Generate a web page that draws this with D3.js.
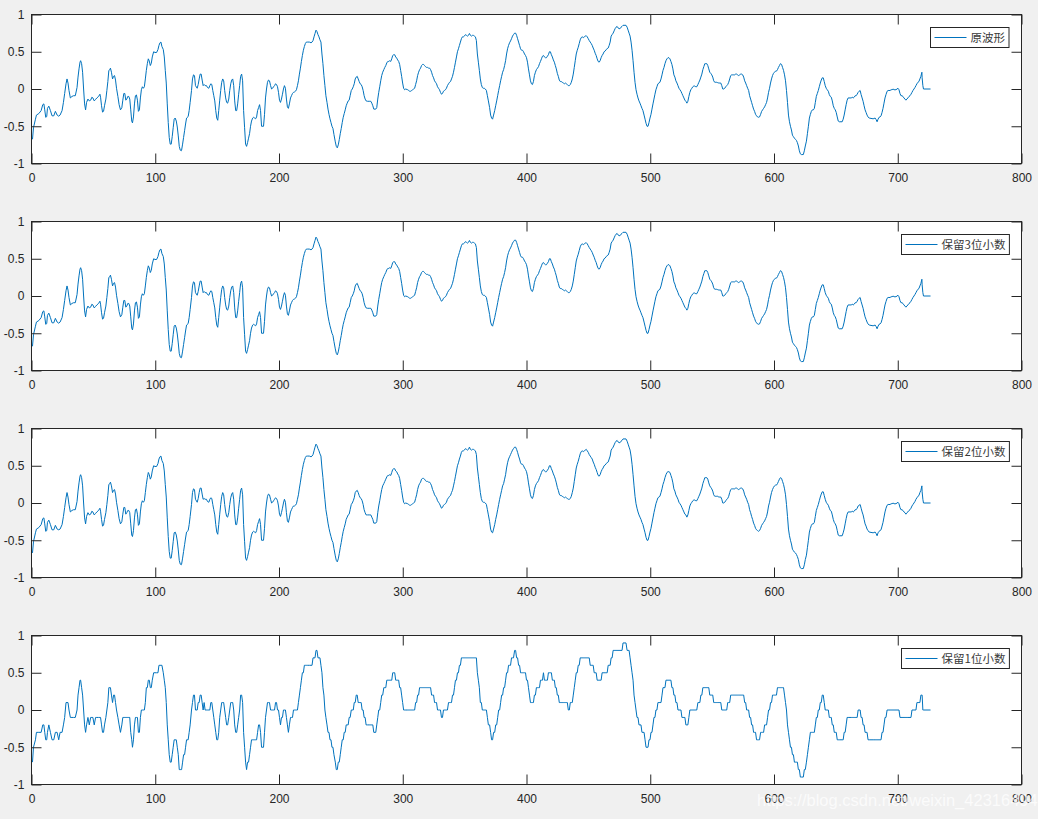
<!DOCTYPE html>
<html><head><meta charset="utf-8">
<script src="https://cdn.jsdelivr.net/npm/d3@7"></script>
<style>body{margin:0;background:#f0f0f0;overflow:hidden}svg{display:block}</style>
</head><body>
<svg id="chart" width="1038" height="819"></svg>
<script>
const xTicks = [0, 100, 200, 300, 400, 500, 600, 700, 800];
const yTicks = [-1, -0.5, 0, 0.5, 1];
const legendLabels = ["原波形", "保留3位小数", "保留2位小数", "保留1位小数"];
const decimals = [null, 3, 2, 1];
const watermark = "https://blog.csdn.net/weixin_42316494";
// original waveform: [sample index, value]
const wave = [
[0.8,-0.675],[1.6,-0.52],[3.2,-0.405],[4.0,-0.35],[5.9,-0.33],[7.8,-0.29],[9.1,-0.21],[10.0,-0.2],[10.7,-0.28],[11.5,-0.38],[12.3,-0.37],[12.9,-0.26],[14.0,-0.23],[15.3,-0.29],[16.6,-0.36],[18.0,-0.36],[19.3,-0.3],[20.7,-0.35],[22.0,-0.365],[23.1,-0.35],[24.7,-0.29],[25.8,-0.18],[26.8,-0.06],[27.9,0.07],[28.7,0.135],[29.5,0.08],[30.3,-0.02],[31.4,-0.12],[32.7,-0.1],[34.0,-0.09],[35.4,-0.09],[36.8,0.02],[37.6,0.16],[38.4,0.27],[39.2,0.36],[39.7,0.38],[40.5,0.34],[41.3,0.225],[42.1,0.0],[42.9,-0.2],[43.7,-0.28],[44.5,-0.18],[45.6,-0.135],[46.7,-0.16],[47.8,-0.15],[48.8,-0.11],[49.6,-0.12],[50.7,-0.16],[51.8,-0.14],[52.8,-0.12],[54.2,-0.1],[55.3,-0.07],[55.8,-0.11],[56.6,-0.225],[57.4,-0.31],[58.2,-0.3],[59.0,-0.225],[60.1,-0.135],[60.9,-0.02],[61.7,0.1],[62.5,0.25],[63.3,0.26],[63.8,0.28],[64.6,0.225],[65.5,0.135],[66.3,0.17],[67.1,0.18],[67.9,0.12],[68.7,0.01],[69.8,-0.1],[70.8,-0.21],[71.9,-0.28],[73.0,-0.25],[73.8,-0.15],[74.6,-0.06],[75.4,-0.06],[76.2,-0.15],[77.0,-0.135],[77.8,-0.1],[78.6,-0.1],[79.4,-0.135],[80.2,-0.28],[81.0,-0.43],[81.6,-0.455],[82.4,-0.375],[83.2,-0.2],[84.0,-0.09],[84.8,-0.08],[85.6,-0.15],[86.4,-0.3],[87.2,-0.28],[88.0,-0.12],[88.8,-0.01],[89.6,0.03],[90.4,0.01],[91.2,0.03],[92.0,0.135],[92.8,0.25],[93.6,0.34],[94.4,0.405],[95.2,0.375],[96.0,0.315],[96.8,0.345],[97.6,0.43],[98.7,0.5],[99.8,0.49],[101.1,0.49],[102.2,0.53],[103.0,0.585],[103.8,0.62],[104.6,0.63],[105.4,0.57],[106.5,0.53],[107.3,0.43],[108.1,0.25],[108.9,0.08],[109.7,-0.2],[110.5,-0.45],[111.3,-0.65],[112.1,-0.74],[112.9,-0.74],[113.7,-0.64],[114.5,-0.52],[115.3,-0.405],[116.1,-0.39],[117.0,-0.43],[117.8,-0.51],[118.6,-0.63],[119.4,-0.77],[120.2,-0.82],[121.0,-0.83],
[121.3,-0.82],[122.1,-0.74],[122.9,-0.65],[123.7,-0.56],[124.5,-0.47],[125.3,-0.39],[126.6,-0.37],[127.4,-0.29],[128.2,-0.18],[129.3,-0.02],[130.1,0.135],[130.9,0.19],[131.7,0.18],[132.5,0.045],[133.9,0.01],[134.7,0.06],[135.5,0.135],[136.3,0.2],[137.1,0.2],[137.9,0.12],[138.7,0.045],[139.5,0.06],[140.3,0.045],[141.4,0.045],[142.2,0.02],[143.3,0.01],[144.1,0.045],[144.9,0.07],[145.7,0.06],[146.5,-0.02],[147.3,-0.09],[148.1,-0.16],[148.9,-0.29],[149.7,-0.39],[150.5,-0.42],[151.3,-0.29],[152.1,-0.15],[152.9,-0.02],[153.7,0.09],[154.5,0.135],[155.3,0.11],[156.1,-0.02],[156.9,-0.12],[157.7,-0.18],[158.5,-0.19],[159.4,-0.135],[160.2,-0.02],[161.0,0.07],[161.8,0.12],[162.6,0.135],[163.4,0.045],[164.2,-0.16],[165.0,-0.29],[165.8,-0.29],[166.6,-0.2],[167.4,-0.07],[168.2,0.045],[169.0,0.17],[169.8,0.2],[170.6,0.11],[171.4,-0.29],[172.2,-0.52],[173.0,-0.74],[173.8,-0.77],[174.6,-0.72],[175.4,-0.66],[176.2,-0.6],[177.0,-0.5],[177.8,-0.43],[178.7,-0.39],[179.5,-0.38],[180.3,-0.39],[181.1,-0.4],[181.9,-0.375],[182.7,-0.29],[183.5,-0.25],[184.3,-0.21],[185.1,-0.29],[185.9,-0.5],[187.5,-0.5],[188.3,-0.34],[189.1,-0.12],[189.9,0.0],[190.7,0.09],[191.5,0.12],[192.3,0.11],[193.2,0.045],[194.0,0.0],[194.8,0.01],[195.6,0.03],[196.4,0.045],[197.2,0.07],[198.0,0.06],[198.8,0.03],[199.6,-0.045],[200.4,-0.15],[201.2,-0.18],[202.0,-0.135],[202.8,-0.07],[203.6,0.0],[204.4,0.045],[205.2,0.01],[206.0,-0.135],[206.8,-0.24],[207.6,-0.26],[208.4,-0.2],[209.3,-0.12],[210.1,-0.09],[210.9,-0.06],[211.7,-0.045],[212.5,-0.04],[213.3,-0.03],[214.1,-0.01],[214.9,0.045],[215.7,0.11],[216.5,0.2],[217.3,0.28],[218.1,0.37],[218.9,0.45],[219.7,0.52],[220.5,0.57],[221.3,0.61],[222.1,0.63],[223.2,0.63],[224.5,0.63],[225.9,0.62],[226.7,0.63],[227.5,0.65],[228.3,0.7],[229.1,0.745],[229.9,0.79],[230.7,0.77],[231.5,0.73],[232.3,0.7],[233.1,0.66],[233.9,0.63],[234.7,0.47],[235.5,0.34],[236.3,0.18],[237.1,0.045],[237.9,-0.09],[238.8,-0.18],[239.6,-0.27],[240.4,-0.34],[241.2,-0.4],[242.0,-0.45],[242.8,-0.5],[243.6,-0.53],[244.4,-0.61],
[245.5,-0.71],[246.3,-0.77],[247.1,-0.79],[247.9,-0.75],[248.7,-0.68],[249.5,-0.6],[250.3,-0.53],[251.1,-0.45],[251.9,-0.38],[252.7,-0.33],[253.5,-0.28],[254.3,-0.225],[255.1,-0.19],[255.9,-0.16],[256.7,-0.15],[257.5,-0.09],[258.4,-0.02],[259.2,0.0],[260.0,0.03],[260.8,0.07],[261.6,0.135],[262.4,0.16],[263.2,0.17],[264.0,0.135],[264.8,0.1],[265.6,0.07],[266.4,0.06],[267.2,0.03],[268.0,-0.02],[268.8,-0.09],[269.6,-0.135],[270.4,-0.16],[271.5,-0.165],[272.9,-0.165],[274.2,-0.165],[275.0,-0.19],[275.8,-0.225],[276.6,-0.27],[278.2,-0.27],[279.0,-0.25],[279.8,-0.135],[280.6,-0.045],[281.4,0.03],[282.2,0.11],[283.0,0.18],[283.8,0.225],[284.7,0.26],[285.5,0.29],[286.3,0.315],[287.1,0.35],[287.9,0.37],[288.7,0.37],[289.5,0.38],[290.3,0.37],[291.1,0.405],[291.9,0.45],[292.7,0.46],[293.5,0.46],[294.3,0.43],[295.1,0.415],[295.9,0.39],[296.7,0.37],[297.5,0.33],[298.3,0.25],[299.1,0.17],[299.9,0.08],[300.7,0.01],[301.5,-0.01],[302.4,0.0],[304.0,-0.01],[304.8,-0.02],[305.6,-0.03],[306.4,-0.03],[307.2,-0.02],[308.0,-0.01],[308.8,0.0],[309.6,0.01],[310.4,0.06],[311.2,0.11],[312.0,0.18],[312.8,0.225],[313.6,0.26],[314.4,0.28],[315.2,0.315],[316.0,0.33],[316.8,0.33],[317.6,0.315],[318.4,0.3],[319.2,0.29],[320.0,0.29],[320.9,0.28],[321.7,0.28],[322.5,0.26],[323.3,0.225],[324.1,0.18],[324.9,0.15],[325.7,0.11],[326.5,0.09],[327.3,0.07],[328.1,0.03],[328.9,0.01],[329.7,-0.01],[330.5,-0.045],[331.3,-0.07],[332.1,-0.06],[332.9,-0.03],[333.7,-0.02],[334.5,-0.01],[335.3,0.01],[336.1,0.045],[337.0,0.07],[337.8,0.09],[338.6,0.1],[339.4,0.135],[340.2,0.17],[341.0,0.225],[341.8,0.29],[342.6,0.36],[343.4,0.43],[344.2,0.5],[345.0,0.54],[345.8,0.585],[346.6,0.63],[347.4,0.675],[348.2,0.7],[349.0,0.7],[349.8,0.71],[350.7,0.73],[351.5,0.72],[352.3,0.71],[353.1,0.72],[353.9,0.745],[354.7,0.72],[355.5,0.71],[356.3,0.72],[357.1,0.72],[357.9,0.71],[358.7,0.7],[359.5,0.65],[360.3,0.47],[361.1,0.36],[361.9,0.25],[362.7,0.135],[363.5,0.06],[364.3,0.02],[365.1,0.01],[365.9,0.01],[366.7,0.0],[367.6,-0.02],[368.4,-0.09],[369.2,-0.16],
[370.2,-0.25],[371.0,-0.35],[371.8,-0.39],[372.6,-0.405],[373.4,-0.35],[374.3,-0.29],[375.1,-0.225],[375.9,-0.16],[376.7,-0.09],[377.5,-0.02],[378.3,0.045],[379.1,0.11],[379.9,0.17],[380.7,0.225],[381.5,0.26],[382.3,0.315],[383.1,0.38],[383.9,0.47],[384.7,0.54],[385.5,0.585],[386.3,0.62],[387.1,0.645],[387.9,0.675],[388.7,0.71],[389.5,0.73],[390.4,0.75],[391.2,0.75],[392.0,0.72],[392.8,0.675],[393.6,0.63],[394.4,0.585],[395.2,0.54],[396.0,0.52],[396.8,0.52],[397.6,0.5],[398.4,0.47],[399.2,0.45],[400.0,0.42],[400.8,0.36],[401.6,0.27],[402.4,0.19],[403.2,0.11],[404.0,0.07],[404.8,0.06],[405.6,0.1],[406.4,0.18],[407.2,0.225],[408.0,0.26],[408.9,0.28],[409.7,0.3],[410.5,0.34],[411.3,0.37],[412.1,0.405],[412.9,0.44],[413.7,0.45],[414.5,0.43],[415.3,0.42],[416.1,0.42],[416.9,0.44],[417.7,0.46],[418.5,0.5],[419.3,0.5],[420.1,0.46],[420.9,0.43],[421.7,0.39],[422.5,0.36],[423.3,0.315],[424.1,0.27],[424.9,0.21],[425.7,0.17],[426.5,0.12],[427.3,0.1],[428.1,0.1],[428.9,0.09],[429.8,0.08],[430.6,0.07],[431.4,0.08],[432.2,0.07],[433.0,0.06],[433.8,0.045],[434.6,0.045],[435.4,0.06],[436.2,0.09],[437.0,0.135],[437.8,0.2],[438.6,0.29],[439.4,0.38],[440.2,0.47],[441.0,0.52],[441.8,0.56],[442.6,0.61],[443.4,0.66],[444.2,0.69],[445.0,0.7],[445.9,0.69],[446.7,0.7],[447.5,0.71],[448.3,0.715],[449.1,0.7],[449.9,0.675],[450.7,0.65],[451.5,0.63],[452.3,0.61],[453.1,0.585],[453.9,0.55],[454.7,0.52],[455.5,0.48],[456.3,0.45],[457.1,0.405],[457.9,0.37],[458.7,0.36],[459.5,0.38],[460.3,0.42],[461.1,0.45],[461.9,0.47],[462.7,0.5],[463.6,0.51],[464.4,0.53],[465.2,0.54],[466.0,0.55],[466.8,0.585],[467.6,0.63],[468.4,0.71],[469.2,0.73],[470.0,0.75],[470.8,0.78],[471.6,0.81],[472.4,0.83],[473.2,0.84],[474.0,0.82],[474.8,0.81],[475.6,0.81],[476.4,0.83],[477.2,0.84],[478.0,0.855],[479.6,0.855],[480.4,0.855],[481.3,0.83],[482.1,0.79],[482.9,0.75],[483.7,0.71],[484.5,0.63],[485.3,0.52],[486.1,0.38],[486.9,0.225],[487.7,0.09],[488.5,-0.01],[489.3,-0.07],[490.1,-0.12],[490.9,-0.16],[491.7,-0.19],[492.5,-0.225],[493.3,-0.26],[494.1,-0.29],
[495.0,-0.35],[495.8,-0.405],[496.6,-0.46],[497.4,-0.5],[498.2,-0.5],[499.0,-0.45],[499.8,-0.39],[500.6,-0.34],[501.4,-0.27],[502.2,-0.2],[503.0,-0.135],[503.8,-0.07],[504.6,-0.01],[505.4,0.03],[506.2,0.07],[507.0,0.08],[507.8,0.09],[508.7,0.135],[509.5,0.19],[510.3,0.25],[511.1,0.29],[511.9,0.34],[512.7,0.38],[513.5,0.405],[514.3,0.42],[515.1,0.42],[515.9,0.405],[516.7,0.37],[517.5,0.33],[518.3,0.27],[519.1,0.19],[519.9,0.16],[520.7,0.11],[521.6,0.08],[522.4,0.045],[523.2,0.01],[524.0,-0.01],[524.8,-0.03],[525.6,-0.06],[526.4,-0.09],[527.2,-0.12],[528.0,-0.15],[528.8,-0.165],[529.6,-0.19],[530.4,-0.165],[531.2,-0.1],[532.0,-0.045],[532.8,-0.01],[533.6,0.01],[534.4,0.03],[535.2,0.04],[536.0,0.04],[536.8,0.03],[537.6,0.03],[538.5,0.06],[539.3,0.09],[540.1,0.12],[540.9,0.16],[541.7,0.2],[542.5,0.26],[543.3,0.3],[544.1,0.34],[544.9,0.34],[545.7,0.34],[546.5,0.315],[547.3,0.27],[548.1,0.225],[548.9,0.21],[549.7,0.19],[550.5,0.16],[551.3,0.11],[552.1,0.09],[552.9,0.09],[553.7,0.09],[554.5,0.085],[555.4,0.08],[556.2,0.08],[557.0,0.08],[557.8,0.045],[558.6,0.0],[559.4,0.0],[560.2,0.01],[561.0,0.03],[561.8,0.045],[562.6,0.06],[563.4,0.09],[564.2,0.135],[565.0,0.18],[565.8,0.19],[566.6,0.19],[567.4,0.19],[568.2,0.19],[569.0,0.2],[569.8,0.2],[570.6,0.19],[571.4,0.18],[572.3,0.19],[573.1,0.2],[573.9,0.2],[574.7,0.19],[575.5,0.16],[576.3,0.11],[577.1,0.08],[577.9,0.045],[578.7,0.01],[579.5,-0.02],[580.3,-0.09],[581.1,-0.135],[581.9,-0.18],[582.7,-0.225],[583.5,-0.27],[584.3,-0.3],[585.1,-0.34],[585.9,-0.36],[586.7,-0.375],[587.5,-0.38],[588.3,-0.375],[589.2,-0.34],[590.0,-0.3],[590.8,-0.28],[591.6,-0.26],[592.4,-0.24],[593.2,-0.21],[594.0,-0.18],[594.8,-0.12],[595.6,-0.045],[596.4,0.01],[597.2,0.08],[598.0,0.135],[598.8,0.18],[599.6,0.21],[600.4,0.225],[601.2,0.24],[602.0,0.24],[602.8,0.26],[603.6,0.29],[604.4,0.315],[605.2,0.34],[606.1,0.33],[606.9,0.29],[607.7,0.25],[608.5,0.19],[609.3,0.11],[610.1,-0.02],[610.9,-0.18],[611.7,-0.35],[612.5,-0.44],[613.3,-0.5],[614.1,-0.55],[614.9,-0.62],[615.7,-0.64],[616.5,-0.66],[617.3,-0.675],[618.1,-0.69],
[618.9,-0.72],[619.7,-0.765],[620.5,-0.83],[621.3,-0.87],[622.1,-0.88],[623.7,-0.88],[624.5,-0.83],[625.3,-0.765],[626.2,-0.7],[627.0,-0.6],[627.8,-0.5],[628.6,-0.39],[629.4,-0.34],[630.2,-0.3],[631.0,-0.28],[631.8,-0.28],[632.6,-0.26],[633.4,-0.18],[634.2,-0.1],[635.0,-0.06],[635.8,-0.02],[636.6,0.03],[637.4,0.08],[638.2,0.12],[639.0,0.15],[639.8,0.15],[640.6,0.1],[641.4,0.045],[642.2,0.01],[643.0,-0.01],[643.9,-0.03],[644.7,-0.075],[645.5,-0.1],[646.3,-0.11],[647.1,-0.16],[647.9,-0.225],[648.7,-0.26],[649.5,-0.28],[650.3,-0.315],[651.1,-0.375],[651.9,-0.43],[652.7,-0.44],[655.1,-0.44],[655.9,-0.405],[656.7,-0.35],[657.5,-0.28],[658.3,-0.21],[659.1,-0.15],[659.9,-0.12],[662.4,-0.12],[663.2,-0.11],[664.0,-0.12],[664.8,-0.11],[665.6,-0.09],[666.4,-0.09],[667.2,-0.07],[668.0,-0.045],[668.8,-0.03],[669.6,-0.02],[670.4,-0.075],[671.2,-0.12],[672.0,-0.165],[672.8,-0.225],[673.6,-0.28],[674.4,-0.315],[675.2,-0.35],[676.0,-0.375],[676.9,-0.39],[680.1,-0.4],[681.7,-0.39],[682.5,-0.41],[683.3,-0.44],[684.1,-0.405],[684.9,-0.38],[685.7,-0.375],[686.5,-0.36],[687.3,-0.315],[688.1,-0.26],[688.9,-0.19],[689.7,-0.12],[690.5,-0.075],[691.4,-0.03],[692.2,-0.02],[693.8,-0.02],[694.6,-0.01],[695.4,-0.01],[696.2,0.0],[697.0,-0.01],[698.6,-0.01],[699.4,0.0],[700.2,0.01],[701.0,-0.01],[701.8,-0.06],[702.6,-0.09],[703.4,-0.09],[704.2,-0.1],[705.0,-0.12],[705.8,-0.135],[706.6,-0.15],[707.4,-0.135],[708.2,-0.12],[709.1,-0.1],[709.9,-0.09],[710.7,-0.07],[711.5,-0.045],[712.3,-0.02],[713.1,0.0],[713.9,0.02],[714.7,0.045],[715.5,0.07],[716.3,0.09],[717.1,0.1],[717.9,0.135],[718.7,0.17],[719.5,0.225],[719.7,0.15],[720.3,0.045],[720.8,0.0],[726.5,0.0]
];

const W = 1038, H = 819;
const axLeft = 31.5, axRight = 1021.5, axHeight = 149, firstTop = 14.5, step = 207;
const ink = "#262626", lineColor = "#0072bd";
const svg = d3.select("#chart");
svg.append("rect").attr("width", W).attr("height", H).attr("fill", "#f0f0f0");

const x = d3.scaleLinear().domain([0, 800]).range([axLeft, axRight]);

function roundTo(v, d) { if (d === null) return v; const f = Math.pow(10, d); return Math.round(v * f) / f; }

decimals.forEach((dec, i) => {
  const top = firstTop + i * step, bottom = top + axHeight;
  const y = d3.scaleLinear().domain([-1, 1]).range([bottom, top]);
  const g = svg.append("g");
  g.append("rect").attr("x", axLeft).attr("y", top).attr("width", axRight - axLeft).attr("height", axHeight)
    .attr("fill", "#fff");

  const series = wave.map(p => [p[0], roundTo(p[1], dec)]);
  const line = d3.line().x(d => x(d[0])).y(d => y(d[1]));
  g.append("path").datum(series).attr("d", line).attr("fill", "none")
    .attr("stroke", lineColor).attr("stroke-width", 1).attr("stroke-linejoin", "miter");

  const styleAxis = sel => {
    sel.select(".domain").remove();
    sel.selectAll(".tick line").attr("stroke", ink);
    sel.selectAll(".tick text").attr("fill", ink).attr("font-size", 12)
      .attr("font-family", "'Liberation Sans', Arial, Helvetica, sans-serif");
    sel.attr("font-family", null).attr("font-size", null);
  };
  g.append("g").attr("transform", `translate(0,${bottom})`)
    .call(d3.axisBottom(x).tickValues(xTicks).tickSizeInner(-10).tickSizeOuter(0).tickPadding(10).tickFormat(d => String(d)))
    .call(styleAxis);
  g.append("g").attr("transform", `translate(0,${top})`)
    .call(d3.axisTop(x).tickValues(xTicks).tickSizeInner(-10).tickSizeOuter(0).tickFormat(""))
    .call(styleAxis);
  g.append("g").attr("transform", `translate(${axLeft},0)`)
    .call(d3.axisLeft(y).tickValues(yTicks).tickSizeInner(-10).tickSizeOuter(0).tickPadding(7).tickFormat(d => String(d)))
    .call(styleAxis);
  g.append("g").attr("transform", `translate(${axRight},0)`)
    .call(d3.axisRight(y).tickValues(yTicks).tickSizeInner(-10).tickSizeOuter(0).tickFormat(""))
    .call(styleAxis);

  g.append("rect").attr("x", axLeft).attr("y", top).attr("width", axRight - axLeft).attr("height", axHeight)
    .attr("fill", "none").attr("stroke", ink).attr("stroke-width", 1);

  // legend
  const lg = g.append("g");
  const txt = lg.append("text").text(legendLabels[i])
    .attr("font-family", "'Noto Sans CJK SC', 'Liberation Sans', sans-serif").attr("font-size", 11.5)
    .attr("fill", "#3a3a3a");
  const tw = txt.node().getComputedTextLength();
  const boxW = 4 + 32 + 4 + tw + 4, boxH = 20;
  const bx = Math.round(axRight - 13 - boxW) + 0.5, by = top + 13;
  lg.insert("rect", "text").attr("x", bx).attr("y", by).attr("width", boxW).attr("height", boxH)
    .attr("fill", "#fff").attr("stroke", ink).attr("stroke-width", 1);
  lg.append("line").attr("x1", bx + 4).attr("x2", bx + 36).attr("y1", by + boxH / 2).attr("y2", by + boxH / 2)
    .attr("stroke", lineColor).attr("stroke-width", 1);
  txt.attr("x", bx + 40).attr("y", by + boxH / 2).attr("dy", "0.36em");
});

svg.append("text").text(watermark).attr("x", 757).attr("y", 806)
  .attr("font-family", "'Liberation Sans', Arial, sans-serif").attr("font-size", 16.5)
  .attr("fill", "#ffffff").attr("fill-opacity", 0.75);
</script>
</body></html>
